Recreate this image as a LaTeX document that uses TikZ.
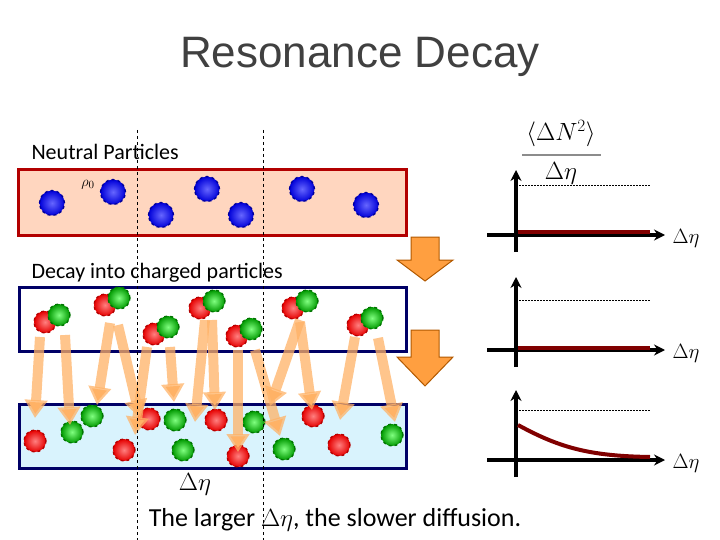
\documentclass[tikz,border=0pt]{standalone}
\usepackage{fontspec}
\setmainfont{Carlito}
\newfontfamily\titlefont{Liberation Sans}
\usetikzlibrary{arrows.meta}
\begin{document}
\begin{tikzpicture}[x=1pt,y=-1pt,
  part/.style={circle,minimum size=#1,inner sep=0pt,dashed,line width=1.3pt},
  bluep/.style={part=25pt,draw=blue!60!black,inner color=blue!60!white,outer color=blue!85!black},
  redp/.style={part=22pt,draw=red!70!black,inner color=red!50!white,outer color=red!90!black},
  greenp/.style={part=22pt,draw=green!45!black,inner color=green!50!white,outer color=green!60!black},
  decarrow/.style={-{Triangle[width=22pt,length=18pt]},line width=10pt,draw=orange!60!white,draw opacity=0.75},
  bigarrow/.style={fill=orange!75!white,draw=orange!70!black,line width=1pt},
  axis/.style={line width=3.5pt,-{Stealth[length=11pt,width=11pt]}},
  guide/.style={line width=0.6pt,dash pattern=on 2pt off 1pt},
  curve/.style={line width=4pt,draw=red!50!black}]
\useasboundingbox (0,0) rectangle (720,540);
\node[font=\titlefont\fontsize{44}{46}\selectfont,text=black!75] (title) at (360,57) {Resonance Decay};
% boxes
\node[draw=red!70!black,line width=3pt,fill=red!30!orange!25,minimum width=388pt,minimum height=65pt,inner sep=0pt] (b1) at (212,202.5) {};
\node[draw=blue!40!black,line width=3pt,fill=white,minimum width=387pt,minimum height=64pt,inner sep=0pt] (b2) at (212.5,319) {};
\node[draw=blue!40!black,line width=3pt,fill=cyan!15,minimum width=387pt,minimum height=64pt,inner sep=0pt] (b3) at (212.5,436) {};
\node[anchor=west,font=\fontsize{22}{24}\selectfont] (t1) at (28,152) {Neutral Particles};
\node[anchor=west,font=\fontsize{22}{24}\selectfont] (t2) at (28,273) {Decay into charged particles};
\node[font=\fontsize{15}{16}\selectfont] (rho) at (88,185) {$\rho_0$};
% neutral
\foreach \x/\y [count=\i] in {52/203,113/192,161/215,207/189,241/215,302/189,366/205}
  \node[bluep] (n\i) at (\x,\y) {};
% pairs
\foreach \x/\y [count=\i] in {45/322,105/305,154/334,200/308,237/336,293/308,358/325}{
  \node[redp] (pr\i) at (\x,\y) {};
  \node[greenp] (pg\i) at (\x+14,\y-7) {};}
% bottom particles
\foreach \x/\y [count=\i] in {35/441,124/450,149/419,216/420,238/456,313/416,339/445}
  \node[redp] (r\i) at (\x,\y) {};
\foreach \x/\y [count=\i] in {72/432,92/416,175/420,183/450,254/422,284/449,392/435}
  \node[greenp] (g\i) at (\x,\y) {};
% decay arrows
\foreach \a/\b/\c/\d [count=\i] in {40/337/35/418,65/335/70/425,110/323/97/405,118/325/140/418,147/347/135/435,170/347/174/402,205/320/195/422,212/320/215/410,238/350/238/452,255/350/280/436,300/320/270/406,300/322/312/410,355/337/340/420,378/338/395/422}{
  \coordinate (s\i) at (\a,\b); \coordinate (e\i) at (\c,\d);
  \draw[decarrow] (s\i) -- (e\i);}
% dashed verticals
\coordinate (v1a) at (137,130); \coordinate (v1b) at (137,540);
\coordinate (v2a) at (263,130); \coordinate (v2b) at (263,540);
\draw[dashed,line width=0.8pt] (v1a) -- (v1b);
\draw[dashed,line width=0.8pt] (v2a) -- (v2b);
% big arrows
\draw[bigarrow] (411,237) -- (439,237) -- (439,260) -- (453,260) -- (425,281) -- (397,260) -- (411,260) -- cycle;
\draw[bigarrow] (411,330) -- (439,330) -- (439,357) -- (453,357) -- (425,386) -- (397,357) -- (411,357) -- cycle;
% graphs
\foreach \k/\h/\top/\dl [count=\i] in {0/235/170/185,1/350/277/300,2/460/390/410}{
  \coordinate (xa\i) at (487,\h); \coordinate (xb\i) at (665,\h);
  \coordinate (ya\i) at (516,\h+17); \coordinate (yb\i) at (516,\top);
  \coordinate (da\i) at (516,\dl); \coordinate (db\i) at (650,\dl);
  \draw[guide] (da\i) -- (db\i);
  \draw[axis] (xa\i) -- (xb\i);
  \draw[axis] (ya\i) -- (yb\i);
  \node[font=\fontsize{20}{22}\selectfont] (lab\i) at (686,\h+3) {$\Delta\eta$};}
\coordinate (c1a) at (518,232); \coordinate (c1b) at (650,232);
\draw[curve] (c1a) -- (c1b);
\coordinate (c2a) at (518,348); \coordinate (c2b) at (650,348);
\draw[curve] (c2a) -- (c2b);
\coordinate (c3a) at (518,425); \coordinate (c3b) at (650,457);
\draw[curve] (c3a) .. controls (560,448) and (590,456) .. (c3b);
\node[font=\fontsize{23}{25}\selectfont] (num) at (561,134) {$\langle\Delta N^2\rangle$};
\coordinate (fa) at (522,155); \coordinate (fb) at (601,155);
\draw[line width=1.3pt,black!45] (fa) -- (fb);
\node[font=\fontsize{23}{25}\selectfont] (den) at (561,173) {$\Delta\eta$};
\node[font=\fontsize{27}{29}\selectfont] (deta) at (195,484) {$\Delta\eta$};
\node[font=\fontsize{26}{28}\selectfont] (cap) at (335,520) {The larger $\Delta\eta$, the slower diffusion.};
\end{tikzpicture}
\end{document}
